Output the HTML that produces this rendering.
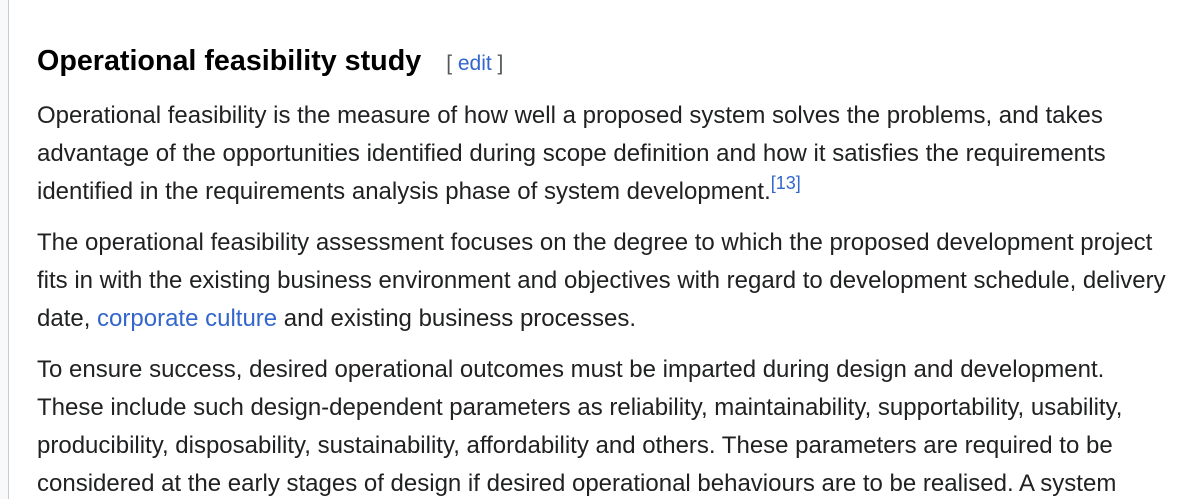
<!DOCTYPE html>
<html><head><meta charset="utf-8"><style>
body{margin:0;width:1185px;height:499px;overflow:hidden;background:#fff;position:relative;font-family:"Liberation Sans",Arial,sans-serif;color:#202122}
.side{position:absolute;left:0;top:0;width:8px;height:499px;background:#f8f9fa;border-right:1px solid #c8ccd1}
.l{position:absolute;left:37px;font-size:24px;line-height:38px;white-space:nowrap}
a{color:#3366cc;text-decoration:none}
sup{font-size:18px;vertical-align:0;position:relative;top:-10px;color:#3366cc}
h2{position:absolute;left:37px;top:42px;margin:0;font-size:28.7px;line-height:38px;font-weight:bold;color:#000;white-space:nowrap}
.e{font-size:21px;font-weight:normal;color:#54595d;margin-left:25px}
</style></head><body>
<div class="side"></div>
<h2>Operational feasibility study<span class="e">[ <a>edit</a> ]</span></h2>
<div class="l" style="top:97px">Operational feasibility is the measure of how well a proposed system solves the problems, and takes</div>
<div class="l" style="top:135px">advantage of the opportunities identified during scope definition and how it satisfies the requirements</div>
<div class="l" style="top:173px">identified in the requirements analysis phase of system development.<sup>[13]</sup></div>
<div class="l" style="top:224px">The operational feasibility assessment focuses on the degree to which the proposed development project</div>
<div class="l" style="top:262px">fits in with the existing business environment and objectives with regard to development schedule, delivery</div>
<div class="l" style="top:300px">date, <a>corporate culture</a> and existing business processes.</div>
<div class="l" style="top:351px">To ensure success, desired operational outcomes must be imparted during design and development.</div>
<div class="l" style="top:389px">These include such design-dependent parameters as reliability, maintainability, supportability, usability,</div>
<div class="l" style="top:427px">producibility, disposability, sustainability, affordability and others. These parameters are required to be</div>
<div class="l" style="top:465px">considered at the early stages of design if desired operational behaviours are to be realised. A system</div>
</body></html>
